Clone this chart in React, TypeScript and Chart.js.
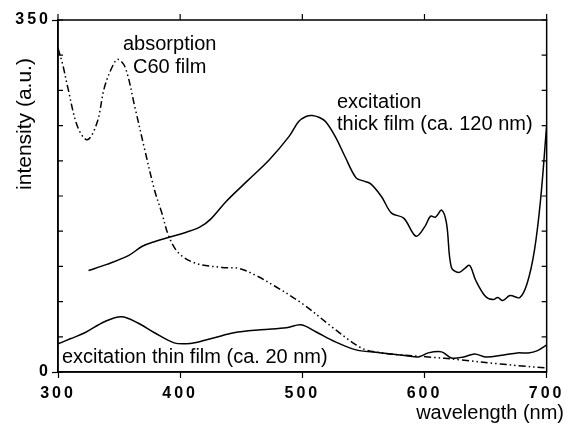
import React, { useEffect, useRef } from "react";
import { Chart, registerables } from "chart.js";

Chart.register(...registerables);

// Wavelength (nm) and intensity (a.u.) for each trace
const absorptionX = [300, 304, 308, 316, 324, 332, 338, 345, 349, 355, 363, 371, 379, 385, 391, 399, 413, 434, 448, 462, 478, 500, 524, 538, 544, 552, 565, 580, 603, 630, 662, 680, 700];
const absorptionY = [322, 305, 283, 244, 231, 248, 283, 305, 311, 303, 263, 221, 181, 158, 134, 118, 108, 104, 103, 96, 85, 68, 45, 32, 27, 22, 19, 17, 15, 12, 8, 6, 4];

const thickX = [325, 340, 358, 369, 380, 391, 405, 416, 425, 438, 455, 473, 489, 497, 503, 508, 514, 519, 527, 535, 544, 550, 556, 565, 573, 583, 593, 600, 605, 609, 614, 618, 622, 628, 633, 637, 642, 650, 656, 660, 664, 670, 678, 684, 690, 695, 700];
const thickY = [101, 107, 116, 125, 130, 134, 139, 144, 152, 170, 190, 211, 234, 249, 254, 255, 253, 249, 234, 214, 193, 190, 187, 174, 158, 153, 135, 144, 155, 154, 161, 148, 104, 99, 103, 106, 91, 75, 72, 74, 71, 76, 74, 88, 121, 171, 245];

const thinX = [300, 310, 322, 338, 352, 365, 379, 395, 405, 412, 428, 444, 466, 487, 499, 511, 527, 544, 565, 580, 595, 603, 614, 622, 632, 641, 650, 665, 676, 685, 692, 700];
const thinY = [28, 33, 39, 50, 55, 49, 39, 29, 28, 29, 34, 39, 42, 44, 47, 40, 30, 22, 19, 17, 15, 19, 20, 14, 15, 18, 15, 17, 19, 19, 21, 27];

const xTicks = [300, 400, 500, 600, 700];
const yLabelTicks = [0, 350];

const xTitle = "wavelength (nm)";
const yTitle = "intensity (a.u.)";
const labelAbsorption = ["absorption", "C60 film"];
const labelThick = ["excitation", "thick film (ca. 120 nm)"];
const labelThin = "excitation thin film (ca. 20 nm)";

const toPoints = (xs: number[], ys: number[]) => xs.map((x, i) => ({ x, y: ys[i] }));

const decorPlugin = {
  id: "decor",
  beforeDraw(chart: any) {
    (chart.ctx as any).letterSpacing = "3px";
  },
  beforeDatasetsDraw(chart: any) {
    (chart.ctx as any).letterSpacing = "0px";
  },
  afterDraw(chart: any) {
    const ctx = chart.ctx;
    const { left, right, top, bottom } = chart.chartArea;
    const xs = chart.scales.x;
    const ys = chart.scales.y;
    ctx.save();
    (ctx as any).letterSpacing = "0px";
    ctx.strokeStyle = "#000";
    ctx.lineWidth = 1.5;
    ctx.strokeRect(left, top, right - left, bottom - top);
    ctx.lineWidth = 1.2;
    ctx.beginPath();
    for (let v = 0; v <= 350; v += 35) {
      const py = ys.getPixelForValue(v);
      ctx.moveTo(left, py);
      ctx.lineTo(left + 5, py);
      ctx.moveTo(right, py);
      ctx.lineTo(right - 5, py);
    }
    xTicks.forEach((v) => {
      const px = xs.getPixelForValue(v);
      ctx.moveTo(px, top);
      ctx.lineTo(px, top - 6);
    });
    ctx.stroke();

    ctx.fillStyle = "#000";
    ctx.font = "20px 'Liberation Sans', Arial, sans-serif";
    ctx.textBaseline = "alphabetic";
    ctx.textAlign = "left";
    ctx.fillText(labelAbsorption[0], 123, 50);
    ctx.fillText(labelAbsorption[1], 133, 73);
    ctx.fillText(labelThick[0], 337, 108);
    ctx.fillText(labelThick[1], 337, 130);
    ctx.fillText(labelThin, 62, 363);

    ctx.textAlign = "right";
    ctx.fillText(xTitle, 564, 419);

    ctx.save();
    ctx.translate(31, 124);
    ctx.rotate(-Math.PI / 2);
    ctx.textAlign = "center";
    ctx.font = "21px 'Liberation Sans', Arial, sans-serif";
    ctx.fillText(yTitle, 0, 0);
    ctx.restore();
    ctx.restore();
  },
};

export default function App() {
  const ref = useRef<HTMLCanvasElement | null>(null);
  useEffect(() => {
    if (!ref.current) return;
    const lineBase = {
      borderColor: "#000",
      borderWidth: 1.5,
      pointRadius: 0,
      tension: 0.35,
      fill: false,
    };
    const tickFont = { family: "'Liberation Sans', Arial, sans-serif", size: 16, weight: "bold" };
    const chart = new Chart(ref.current, {
      type: "line",
      data: {
        datasets: [
          { ...lineBase, label: "absorption C60 film", data: toPoints(absorptionX, absorptionY), borderDash: [7, 3, 1.5, 3, 1.5, 3] },
          { ...lineBase, label: "excitation thick film (ca. 120 nm)", data: toPoints(thickX, thickY) },
          { ...lineBase, label: "excitation thin film (ca. 20 nm)", data: toPoints(thinX, thinY) },
        ],
      },
      options: {
        animation: false,
        responsive: false,
        devicePixelRatio: 1,
        layout: { padding: { top: 20, right: 17, left: 0, bottom: 0 } },
        plugins: { legend: { display: false }, tooltip: { enabled: false } },
        scales: {
          x: {
            type: "linear",
            min: 300,
            max: 700,
            afterBuildTicks: (scale: any) => {
              scale.ticks = xTicks.map((v) => ({ value: v }));
            },
            ticks: {
              color: "#000",
              font: tickFont,
              padding: 6,
              maxRotation: 0,
              autoSkip: false,
            },
            grid: { drawOnChartArea: false, drawTicks: true, tickLength: 6, tickColor: "#000", tickWidth: 1.2 },
            border: { display: true, color: "#000", width: 1.5 },
            afterFit: (scale: any) => {
              scale.height = 53;
            },
          },
          y: {
            type: "linear",
            min: 0,
            max: 350,
            ticks: {
              stepSize: 35,
              color: "#000",
              font: tickFont,
              padding: 1,
              callback: (v: any) => (yLabelTicks.includes(Number(v)) ? String(v) : ""),
            },
            grid: {
              drawOnChartArea: false,
              drawTicks: true,
              tickLength: 6,
              tickWidth: 1.2,
              tickColor: (c: any) => (c.tick && yLabelTicks.includes(c.tick.value) ? "#000" : "rgba(0,0,0,0)"),
            },
            border: { display: true, color: "#000", width: 1.5 },
            afterFit: (scale: any) => {
              scale.width = 58;
            },
          },
        },
      },
      plugins: [decorPlugin],
    } as any);
    return () => chart.destroy();
  }, []);

  return (
    <div style={{ position: "absolute", left: 0, top: 0, width: 566, height: 425, background: "#fff" }}>
      <canvas ref={ref} width={566} height={425} style={{ width: 566, height: 425 }} />
    </div>
  );
}
